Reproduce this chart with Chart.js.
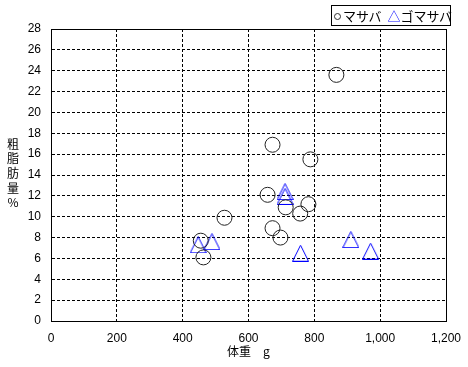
<!DOCTYPE html>
<html>
<head>
<meta charset="utf-8">
<script src="https://cdn.jsdelivr.net/npm/chart.js@4/dist/chart.umd.min.js"></script>
<style>
  html, body { margin: 0; padding: 0; background: #fff; }
  #wrap { position: relative; width: 468px; height: 367px; }
  #legend {
    position: absolute; left: 331px; top: 5px; width: 116px; height: 19px;
    border: 1px solid #000; background: #fff;
    font: 13px "Noto Sans CJK JP", sans-serif; line-height: 19px;
    white-space: nowrap; padding-left: 2px; box-sizing: content-box;
  }
  #legend .dot {
    display: inline-block; width: 5px; height: 5px; border: 1px solid #333;
    border-radius: 50%; margin: 0 2px 1px 0; vertical-align: middle;
  }
  #legend .tri { color: #0000ff; margin-left: 6px; }
</style>
</head>
<body>
<div id="wrap">
  <canvas id="chart" width="468" height="367"></canvas>
  <div id="legend"><span class="dot"></span>マサバ<span class="tri">△</span>ゴマサバ</div>
</div>
<script>
// マサバ (chub mackerel): weight g, crude fat %
const masabaWeight = [867, 673, 788, 658, 782, 713, 757, 527, 673, 697, 455, 463];
const masabaFat    = [23.6, 16.9, 15.5, 12.1, 11.2, 10.9, 10.3, 9.9, 8.9, 8.0, 7.7, 6.1];

// ゴマサバ (blue mackerel)
const gomasabaWeight = [447, 489, 711, 711, 758, 911, 971];
const gomasabaFat    = [7.3, 7.6, 12.4, 11.95, 6.5, 7.8, 6.7];

const xTicks = [0, 200, 400, 600, 800, 1000, 1200];
const yTicks = [0, 2, 4, 6, 8, 10, 12, 14, 16, 18, 20, 22, 24, 26, 28];

const yTitle = ["粗", "脂", "肪", "量", "%"];
const xTitle = "体重　g";

const toPoints = (xs, ys) => xs.map((x, i) => ({ x: x, y: ys[i] }));

// open blue triangle marker, same width and height like the original
const tri = document.createElement("canvas");
tri.width = 17;
tri.height = 17;
const tctx = tri.getContext("2d");
tctx.strokeStyle = "#0000ff";
tctx.lineWidth = 1;
tctx.beginPath();
tctx.moveTo(8.5, 0.5);
tctx.lineTo(16.5, 16.5);
tctx.lineTo(0.5, 16.5);
tctx.closePath();
tctx.stroke();

const frame = {
  id: "frame",
  afterDraw(chart) {
    const { ctx, chartArea: a } = chart;
    ctx.save();
    ctx.strokeStyle = "#000";
    ctx.lineWidth = 1;
    ctx.strokeRect(Math.round(a.left) + 0.5, Math.round(a.top) + 0.5,
      Math.round(a.right - a.left), Math.round(a.bottom - a.top));
    // stacked vertical y title
    ctx.fillStyle = "#000";
    ctx.font = '12px "Noto Sans CJK JP"';
    ctx.textAlign = "center";
    ctx.textBaseline = "middle";
    yTitle.forEach((ch, i) => ctx.fillText(ch, 13, 144 + i * 14.7));
    ctx.restore();
  },
};

const ctx = document.getElementById("chart").getContext("2d");

new Chart(ctx, {
  type: "scatter",
  data: {
    datasets: [
      {
        label: "マサバ",
        data: toPoints(masabaWeight, masabaFat),
        pointStyle: "circle",
        pointRadius: 7.5,
        pointHoverRadius: 7.5,
        borderColor: "#222",
        borderWidth: 1,
        backgroundColor: "rgba(0,0,0,0)",
      },
      {
        label: "ゴマサバ",
        data: toPoints(gomasabaWeight, gomasabaFat),
        pointStyle: tri,
        pointRadius: 8,
        borderColor: "#0000ff",
        backgroundColor: "rgba(0,0,0,0)",
      },
    ],
  },
  options: {
    responsive: false,
    animation: false,
    events: [],
    layout: { padding: { left: 0, right: 22, top: 29, bottom: 0 } },
    plugins: {
      legend: { display: false },
      tooltip: { enabled: false },
    },
    scales: {
      x: {
        type: "linear",
        min: 0,
        max: 1200,
        afterFit: (s) => {
          s.height = 46;
          s.paddingLeft = 0;
          s.paddingRight = 0;
        },
        afterBuildTicks: (s) => { s.ticks = xTicks.map((v) => ({ value: v })); },
        ticks: {
          color: "#000",
          padding: 10,
          font: { family: "Liberation Sans", size: 12 },
          callback: (v) => v.toLocaleString("en-US"),
        },
        grid: { color: "#000", lineWidth: 1, drawTicks: false },
        border: { display: true, color: "#000", width: 1, dash: [3, 2] },
        title: {
          display: true,
          text: xTitle,
          color: "#000",
          font: { family: "Noto Sans CJK JP", size: 12 },
          padding: { top: 0, bottom: 8 },
        },
      },
      y: {
        min: 0,
        max: 28,
        afterFit: (s) => { s.width = 51; },
        afterBuildTicks: (s) => { s.ticks = yTicks.map((v) => ({ value: v })); },
        ticks: {
          color: "#000",
          padding: 10,
          font: { family: "Liberation Sans", size: 12 },
        },
        grid: { color: "#000", lineWidth: 1, drawTicks: false },
        border: { display: true, color: "#000", width: 1, dash: [3, 2] },
      },
    },
  },
  plugins: [frame],
});
</script>
</body>
</html>
